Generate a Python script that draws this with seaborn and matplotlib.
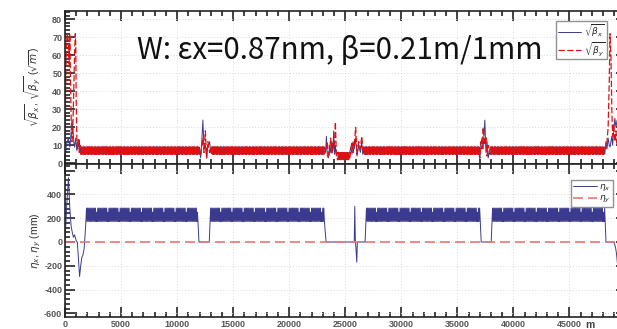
import numpy as np
import pandas as pd
import matplotlib
matplotlib.use("Agg")
import matplotlib.pyplot as plt
from matplotlib.ticker import MultipleLocator
import seaborn as sns

sns.set_theme(style="white")
plt.rcParams['font.family'] = ['Liberation Sans', 'DejaVu Sans']
plt.rcParams['mathtext.fontset'] = 'dejavusans'

# ---------------- data ----------------
TITLE = "W: \u03b5x=0.87nm, \u03b2=0.21m/1mm"
XTICKS = [0, 5000, 10000, 15000, 20000, 25000, 30000, 35000, 40000, 45000]
YTICKS_TOP = [0, 10, 20, 30, 40, 50, 60, 70, 80]
YTICKS_BOT = [-600, -400, -200, 0, 200, 400]

# FODO cell (100 m, two samples per cell) for sqrt(beta)
cell_step = 50.0
bx_cell = [9.1, 5.0]
by_cell = [5.0, 9.1]
bx_low_cell = [6.0, 2.0]
by_low_cell = [2.0, 6.0]
# regular sqrt(beta) band segments (start, end) in m
beta_bands = [(1500, 12000), (13100, 23150), (26650, 36950), (37950, 48050)]
beta_low_band = (24350, 25400)

# special sqrt(beta) regions
s_ir0 = [0, 60, 120, 200, 300, 380, 430, 480, 550, 620, 700, 780, 850, 920, 960, 1000, 1060, 1120, 1200, 1280, 1350, 1420, 1480]
bx_ir0 = [1.0, 6, 10, 12, 14, 11, 9, 12, 18, 24, 20, 12, 9, 12, 14, 10, 7, 12, 9, 13, 6, 9, 5]
by_ir0 = [0.3, 40, 65, 72, 68, 55, 72, 50, 25, 12, 20, 40, 60, 72, 65, 35, 12, 8, 14, 6, 10, 5, 9]

s_sp1 = [12000, 12100, 12200, 12300, 12400, 12520, 12630, 12750, 12900, 13000, 13080]
bx_sp1 = [9, 3, 12, 24, 8, 10, 3, 9, 12, 6, 9]
by_sp1 = [5, 4, 9, 14, 6, 18, 3, 12, 6, 9, 5]

s_mid1 = [23150, 23250, 23320, 23400, 23500, 23600, 23700, 23800, 23900, 23970, 24050, 24120, 24200, 24300]
bx_mid1 = [9, 6, 15, 4, 3, 10, 6, 12, 7, 18, 5, 10, 4, 6]
by_mid1 = [5, 9, 8, 12, 3, 6, 14, 5, 11, 8, 12, 23, 6, 2]

s_mid2 = [25400, 25500, 25600, 25700, 25800, 25930, 26050, 26200, 26350, 26470, 26560, 26630]
bx_mid2 = [6, 9, 5, 12, 8, 14, 4, 10, 6, 12, 5, 9]
by_mid2 = [2, 8, 12, 6, 10, 20, 5, 12, 8, 15, 9, 5]

s_sp3 = [36950, 37000, 37100, 37200, 37300, 37450, 37550, 37650, 37750, 37900, 37950]
bx_sp3 = [9, 2, 10, 14, 8, 24, 6, 12, 3, 8, 9]
by_sp3 = [5, 3, 12, 8, 20, 10, 15, 4, 10, 5, 5]

s_ir1 = [48050, 48150, 48250, 48350, 48450, 48550, 48620, 48700, 48780, 48850, 48950, 49050, 49150, 49250, 49400]
bx_ir1 = [9, 5, 12, 8, 14, 10, 9, 12, 15, 10, 18, 25, 20, 24, 15]
by_ir1 = [5, 9, 8, 12, 20, 45, 72, 60, 30, 15, 22, 12, 18, 10, 30]

# dispersion: arc cell pattern (mm), one cell of 100 m
eta_cell = [285, 172]
eta_cell_short = [250, 172]
eta_group = 10  # one short cell every 10 cells
eta_arcs = [(1920, 11830), (12990, 23170), (26890, 37010), (38140, 48170)]

s_eta_ir0 = [0, 150, 310, 420, 550, 650, 750, 850, 1000, 1100, 1200, 1300, 1400, 1500, 1600, 1700, 1750, 1850]
eta_ir0 = [0, 300, 540, 300, 130, 80, 40, 60, 10, 0, -150, -290, -200, -130, -110, -60, 0, 150]

s_eta_mid = [23300, 25800, 25850, 25900, 25960, 26030, 26080, 26770]
eta_mid = [0, 0, 300, 20, -60, -170, 0, 0]

s_eta_end = [48260, 48950, 49100, 49200, 49350, 49500]
eta_end = [0, 0, -40, -100, -250, -200]

s_etay = [0, 50000]
etay = [0, 0]

# ---------------- build series ----------------
def band(start, end, pat):
    s = np.arange(start, end, cell_step)
    v = np.resize(np.array(pat, float), len(s))
    return s, v

def beta_series(ir0, sp1, mid1, mid2, sp3, ir1, cell, lowcell):
    parts = [ir0]
    b = [band(a, e, cell) for a, e in beta_bands]
    low = band(*beta_low_band, lowcell)
    parts += [b[0], sp1, b[1], mid1, low, mid2, b[2], sp3, b[3], ir1]
    s = np.concatenate([np.asarray(p[0], float) for p in parts])
    v = np.concatenate([np.asarray(p[1], float) for p in parts])
    return s, v

sbx, vbx = beta_series((s_ir0, bx_ir0), (s_sp1, bx_sp1), (s_mid1, bx_mid1), (s_mid2, bx_mid2),
                       (s_sp3, bx_sp3), (s_ir1, bx_ir1), bx_cell, bx_low_cell)
sby, vby = beta_series((s_ir0, by_ir0), (s_sp1, by_sp1), (s_mid1, by_mid1), (s_mid2, by_mid2),
                       (s_sp3, by_sp3), (s_ir1, by_ir1), by_cell, by_low_cell)

eta_pattern = eta_cell * (eta_group - 1) + eta_cell_short
def eta_band(start, end):
    s = np.arange(start, end, cell_step)
    v = np.resize(np.array(eta_pattern, float), len(s))
    return s, v

se = [np.array(s_eta_ir0, float)]
ve = [np.array(eta_ir0, float)]
for i, (a, e) in enumerate(eta_arcs):
    s, v = eta_band(a, e)
    se.append(s); ve.append(v)
    if i == 0 or i == 2:
        g = (e + 120, eta_arcs[i + 1][0] - 120)
        se.append(np.array(g, float)); ve.append(np.array([0.0, 0.0]))
    elif i == 1:
        se.append(np.array([e + 120] + s_eta_mid, float)); ve.append(np.array([0.0] + eta_mid, float))
    else:
        se.append(np.array(s_eta_end, float)); ve.append(np.array(eta_end, float))
seta = np.concatenate(se); veta = np.concatenate(ve)

df_bx = pd.DataFrame({"s": sbx, "v": vbx})
df_by = pd.DataFrame({"s": sby, "v": vby})
df_ex = pd.DataFrame({"s": seta, "v": veta})
df_ey = pd.DataFrame({"s": s_etay, "v": etay})

# ---------------- figure ----------------
W, H = 617, 329
fig = plt.figure(figsize=(W / 100, H / 100), dpi=100)
fig.patch.set_facecolor("white")
axw = 560.5 / W
ax1 = fig.add_axes([65 / W, (H - 164) / H, axw, 153 / H])
ax2 = fig.add_axes([65 / W, (H - 317) / H, axw, 153 / H])

BLUE = "#3b3a8e"
RED = "#e01010"
PINK = "#f07474"

sns.lineplot(data=df_bx, x="s", y="v", ax=ax1, color=BLUE, lw=0.7, estimator=None, sort=False, label=r"$\sqrt{\beta_x}$")
sns.lineplot(data=df_by, x="s", y="v", ax=ax1, color=RED, lw=0.9, linestyle=(0, (5, 2)), estimator=None, sort=False, label=r"$\sqrt{\beta_y}$")
sns.lineplot(data=df_ex, x="s", y="v", ax=ax2, color=BLUE, lw=0.7, estimator=None, sort=False, label=r"$\eta_x$")
sns.lineplot(data=df_ey, x="s", y="v", ax=ax2, color=PINK, lw=1.2, linestyle=(0, (6, 3)), estimator=None, sort=False, label=r"$\eta_y$")

ax1.set_ylim(-0.4, 84.6)
ax2.set_ylim(-630, 655)
for ax in (ax1, ax2):
    ax.set_xlim(0, 50000)
    ax.set_xticks(XTICKS + [50000])
    ax.xaxis.set_minor_locator(MultipleLocator(1000))
    ax.grid(True, which="major", color="#d9d9d9", linestyle=(0, (1, 2)), lw=0.7)
    ax.tick_params(which="both", direction="in", top=True, right=True, bottom=True, left=True,
                   width=1.2, color="#222222", labelsize=6.5, labelcolor="#555555", pad=2)
    ax.tick_params(which="major", length=7)
    ax.tick_params(which="minor", length=3.5)
    for sp in ax.spines.values():
        sp.set_color("#222222"); sp.set_linewidth(1.2)
    ax.set_xlabel("")
    ax.set_facecolor("white")

ax1.set_yticks(YTICKS_TOP)
ax1.yaxis.set_minor_locator(MultipleLocator(2))
ax1.set_xticklabels([])
ax2.set_yticks(YTICKS_BOT + [600])
ax2.set_yticklabels([str(t) for t in YTICKS_BOT] + [""])
ax2.yaxis.set_minor_locator(MultipleLocator(40))
ax2.set_xticklabels([str(t) for t in XTICKS] + [""])
for ax in (ax1, ax2):
    for lbl in ax.get_xticklabels() + ax.get_yticklabels():
        lbl.set_fontweight("bold")

ax1.set_ylabel(r"$\sqrt{\beta_x}$, $\sqrt{\beta_y}$ ($\sqrt{m}$)", fontsize=7.5, color="#333333")
ax2.set_ylabel(r"$\eta_x$, $\eta_y$ (mm)", fontsize=7.5, color="#333333")
ax1.yaxis.set_label_coords(-0.040, 0.5)
ax2.yaxis.set_label_coords(-0.040, 0.5)

leg_kw = dict(loc="upper right", fontsize=6.5, frameon=True, fancybox=False, handlelength=2.6,
              handletextpad=0.3, borderpad=0.2, labelspacing=0.1, borderaxespad=0)
l1 = ax1.legend(bbox_to_anchor=(0.967, 0.937), **leg_kw)
l2 = ax2.legend(bbox_to_anchor=(0.977, 0.895), **leg_kw)
for lg in (l1, l2):
    lg.get_frame().set_edgecolor("#777777")
    lg.get_frame().set_linewidth(1.0)

fig.text(590 / W, 1 - 325 / H, "m", ha="center", va="center", fontsize=7.5, color="#444444", fontweight="bold")
fig.text(137 / W, 1 - 59 / H, TITLE, ha="left", va="baseline", fontsize=21.2, fontweight="light",
         family=["Noto Sans CJK SC", "DejaVu Sans"], color="#111111")

fig.savefig("out.png", dpi=100)
